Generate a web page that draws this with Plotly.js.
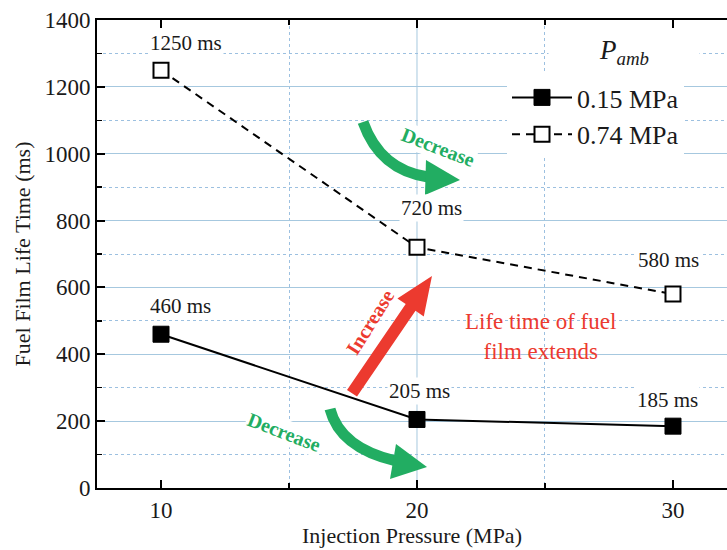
<!DOCTYPE html>
<html>
<head>
<meta charset="utf-8">
<script src="https://cdn.plot.ly/plotly-3.0.1.min.js"></script>
<style>
  html, body { margin: 0; padding: 0; background: #ffffff; }
  #chart { width: 727px; height: 550px; }
</style>
</head>
<body>
<div id="chart"></div>
<script>
// Fuel film life time versus injection pressure, two ambient pressures
const injectionPressure = [10, 20, 30];          // MPa
const lifeLowAmb = [460, 205, 185];              // ms, Pamb = 0.15 MPa
const lifeHighAmb = [1250, 720, 580];            // ms, Pamb = 0.74 MPa
const seriesNames = ['0.15 MPa', '0.74 MPa'];
const xTickVals = [10, 20, 30];
const yTickVals = [0, 200, 400, 600, 800, 1000, 1200, 1400];

// value-label offsets in px (style only)
const lowLabelDx = [19, 3, -5];
const lowLabelDy = [28, 28, 26];
const highLabelDx = [25, 15, -4];
const highLabelDy = [27, 39, 34];

const SERIF = 'Liberation Serif, Times New Roman, serif';
const GREEN = '#22ad62';
const RED = '#ec3a2f';
const INK = '#1a1a1a';

// plot-area geometry (px) used to place the decorative arrows
const M = { l: 97, r: 0, t: 20, b: 62 };
const W = 727, H = 550;
const PW = W - M.l - M.r, PH = H - M.t - M.b;
const px = (x) => (x - M.l) / PW;
const py = (y) => (M.t + PH - y) / PH;
const path = (pts, close) =>
  pts.map((p, i) => (i ? 'L' : 'M') + px(p[0]).toFixed(4) + ',' + py(p[1]).toFixed(4)).join(' ') + (close ? ' Z' : '');
const curve = (a, c, b) =>
  'M' + px(a[0]) + ',' + py(a[1]) + ' Q' + px(c[0]) + ',' + py(c[1]) + ' ' + px(b[0]) + ',' + py(b[1]);

const traces = [
  {
    x: injectionPressure, y: lifeLowAmb, name: seriesNames[0],
    type: 'scatter', mode: 'lines+markers',
    line: { color: '#000000', width: 2 },
    marker: { symbol: 'square', size: 16, color: '#000000', line: { color: '#000000', width: 1 } }
  },
  {
    x: injectionPressure, y: lifeHighAmb, name: seriesNames[1],
    type: 'scatter', mode: 'lines+markers',
    line: { color: '#000000', width: 2, dash: '8px,6px' },
    marker: { symbol: 'square', size: 15, color: '#ffffff', line: { color: '#000000', width: 2 } }
  }
];

const valueLabels = [];
function addLabels(xs, ys, dx, dy) {
  xs.forEach((x, i) => {
    valueLabels.push({
      x: x, y: ys[i], xref: 'x', yref: 'y', xanchor: 'center', yanchor: 'middle',
      text: ys[i] + ' ms', showarrow: false,
      xshift: dx[i], yshift: dy[i],
      font: { family: SERIF, size: 21, color: INK },
      bgcolor: '#ffffff', borderpad: 1
    });
  });
}
addLabels(injectionPressure, lifeLowAmb, lowLabelDx, lowLabelDy);
addLabels(injectionPressure, lifeHighAmb, highLabelDx, highLabelDy);

const note = (x, y, text, extra) => Object.assign({
  xref: 'paper', yref: 'paper', x: px(x), y: py(y), xanchor: 'center', yanchor: 'middle',
  text: text, showarrow: false
}, extra);

const notes = [
  note(438, 147, '<b>Decrease</b>', { textangle: 21, font: { family: SERIF, size: 20, color: GREEN }, bgcolor: '#ffffff' }),
  note(284, 432, '<b>Decrease</b>', { textangle: 21, font: { family: SERIF, size: 20, color: GREEN }, bgcolor: '#ffffff' }),
  note(370, 322, '<b>Increase</b>', { textangle: -58, font: { family: SERIF, size: 20, color: RED } }),
  note(540, 336, 'Life time of fuel<br>film extends', { align: 'center', font: { family: SERIF, size: 23, color: RED } }),
  // legend heading
  note(624, 52, '<i>P</i><sub><i>amb</i></sub>', { width: 150, height: 34, align: 'center',
    font: { family: SERIF, size: 27, color: INK }, bgcolor: '#ffffff', borderpad: 0 })
];

const gridMajor = '#a6c8df';
const gridMinor = '#9cc0e0';

const decor = [
  // solid vertical grid line at 20 MPa
  { type: 'line', xref: 'x', yref: 'paper', x0: 20, x1: 20, y0: 0, y1: 1, layer: 'below',
    line: { color: gridMajor, width: 1 } },
  // upper green curved arrow
  { type: 'path', xref: 'paper', yref: 'paper', path: curve([363, 122], [380, 170], [428, 177]),
    line: { color: GREEN, width: 11 } },
  { type: 'path', xref: 'paper', yref: 'paper', path: path([[426, 160], [460, 180], [425, 195]], true),
    fillcolor: GREEN, line: { width: 0 } },
  // lower green curved arrow
  { type: 'path', xref: 'paper', yref: 'paper', path: curve([330, 409], [340, 448], [396, 461]),
    line: { color: GREEN, width: 11 } },
  { type: 'path', xref: 'paper', yref: 'paper', path: path([[396, 444], [427, 467], [390, 479]], true),
    fillcolor: GREEN, line: { width: 0 } },
  // red straight arrow
  { type: 'path', xref: 'paper', yref: 'paper',
    path: path([[347, 390], [405.7, 304], [397.4, 298.4], [432, 276], [423.8, 316.4], [415.5, 310.8], [357, 396.4]], true),
    fillcolor: RED, line: { width: 0 } }
];

const layout = {
  width: W, height: H,
  margin: M,
  paper_bgcolor: '#ffffff', plot_bgcolor: '#ffffff',
  showlegend: true,
  font: { family: SERIF, color: INK },
  xaxis: {
    range: [7.5, 32.11], tickvals: xTickVals, ticktext: xTickVals.map(String),
    showgrid: false, zeroline: false,
    showline: true, linecolor: '#000000', linewidth: 2, mirror: 'allticks',
    ticks: 'inside', ticklen: 8, tickwidth: 2, tickcolor: '#000000',
    tickfont: { family: SERIF, size: 23, color: INK },
    minor: { tickvals: [15, 25], ticks: 'inside', ticklen: 5, tickwidth: 1.5, tickcolor: '#000000',
             showgrid: true, gridcolor: gridMinor, griddash: 'dot', gridwidth: 1 },
    title: { text: 'Injection Pressure (MPa)', font: { family: SERIF, size: 22, color: INK }, standoff: 5 }
  },
  yaxis: {
    range: [0, 1400], tickvals: yTickVals, ticktext: yTickVals.map(String),
    showgrid: true, gridcolor: gridMajor, gridwidth: 1, zeroline: false,
    showline: true, linecolor: '#000000', linewidth: 2, mirror: false,
    ticks: 'inside', ticklen: 8, tickwidth: 2, tickcolor: '#000000',
    tickfont: { family: SERIF, size: 23, color: INK },
    minor: { dtick: 100, ticks: 'inside', ticklen: 5, tickwidth: 1.5, tickcolor: '#000000',
             showgrid: true, gridcolor: gridMinor, griddash: 'dot', gridwidth: 1 },
    title: { text: 'Fuel Film Life Time (ms)', font: { family: SERIF, size: 22, color: INK }, standoff: 8 }
  },
  legend: {
    x: px(507), y: py(74), xanchor: 'left', yanchor: 'top',
    bgcolor: '#ffffff', borderwidth: 0,
    font: { family: SERIF, size: 26, color: INK },
    itemwidth: 60, tracegroupgap: 0
  },
  annotations: valueLabels.concat(notes),
  shapes: decor
};

Plotly.newPlot('chart', traces, layout, { staticPlot: true, displayModeBar: false });
</script>
</body>
</html>
